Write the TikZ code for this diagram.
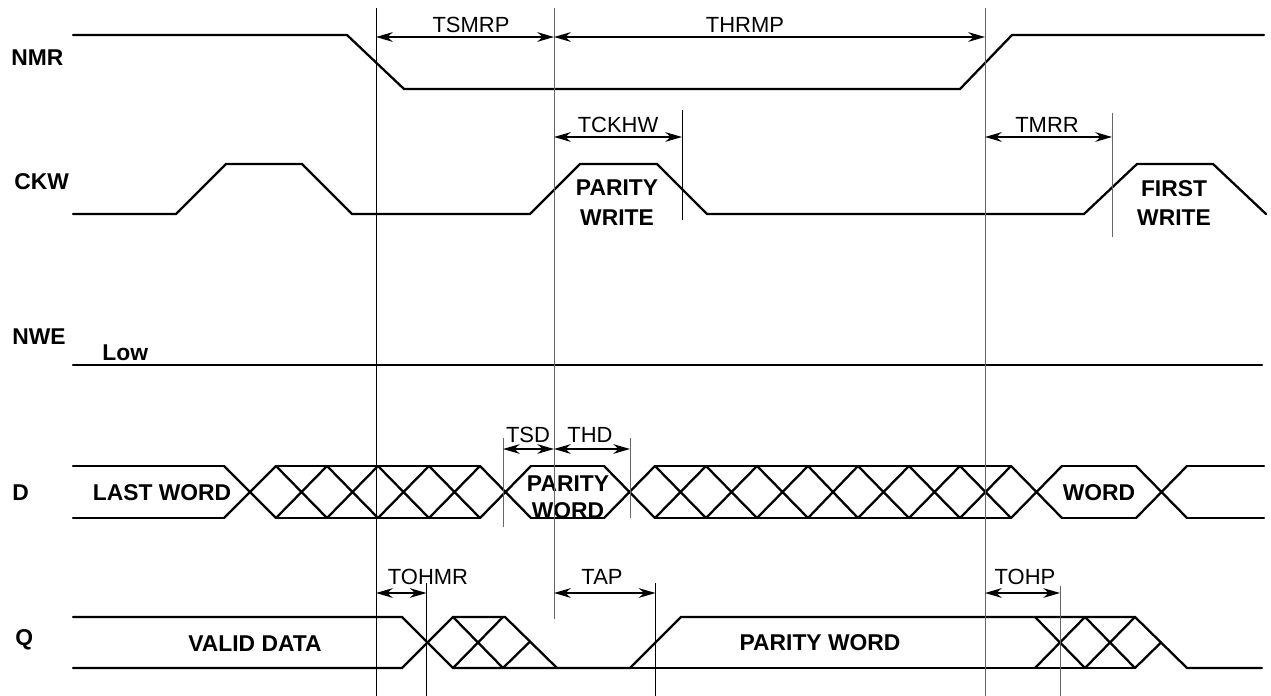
\documentclass[tikz,border=0pt]{standalone}
\usepackage{fontspec}
\setmainfont{Liberation Sans}
\usetikzlibrary{arrows.meta}

\begin{document}
\begin{tikzpicture}[x=0.02cm, y=-0.02cm,
    sig/.style={line width=1.3pt, line cap=round},
    vl/.style={line width=0.55pt},
    vlg/.style={vl, draw=black!60},
    dimarr/.style={{Stealth[length=9.5pt,width=5.5pt,inset=3pt]}-{Stealth[length=9.5pt,width=5.5pt,inset=3pt]}, line width=0.9pt},
    lbl/.style={font=\fontsize{13}{17}\selectfont\bfseries, inner sep=0pt, align=center},
    tm/.style={font=\fontsize{12.5}{14}\selectfont, inner sep=0pt}]
  \useasboundingbox (0,0) rectangle (1271,696);

  % signal names
  \node[lbl, anchor=west] (nmr) at (11,58) {NMR};
  \node[lbl, anchor=west] (ckw) at (14,182) {CKW};
  \node[lbl, anchor=west] (nwe) at (12,337) {NWE};
  \node[lbl, anchor=west] (d) at (12,493) {D};
  \node[lbl, anchor=west] (q) at (15,640) {Q};

  % NMR
  \draw[sig] (73,35) -- (347,35) -- (404,89) -- (960,89) -- (1012,35) -- (1264,35);

  % CKW
  \draw[sig] (73,214) -- (176,214) -- (226,164) -- (302,164) -- (352,214) -- (530,214)
    -- (580,164) -- (657,164) -- (707,214) -- (1084,214) -- (1137,164) -- (1213,164) -- (1266,214);
  \node[lbl] (pw) at (617,203) {PARITY\\WRITE};
  \node[lbl] (fw) at (1174,203) {FIRST\\WRITE};

  % NWE
  \draw[sig] (73,365) -- (1262,365);
  \node[lbl, anchor=west] (low) at (102,353) {Low};

  % D
  \foreach \a/\b in {73/224, 276/480, 531/604, 655/1011, 1062/1136, 1187/1264}
    \draw[sig] (\a,466) -- (\b,466) (\a,518) -- (\b,518);
  \foreach \a/\b in {224/276, 276/327, 327/378, 378/429, 429/480, 480/531,
                     604/655, 655/706, 706/757, 757/808, 808/858, 858/909, 909/960, 960/1011,
                     1011/1062, 1136/1187}
    \draw[sig] (\a,466) -- (\b,518) (\a,518) -- (\b,466);
  \node[lbl] (lw) at (162,493) {LAST WORD};
  \node[lbl, font=\fontsize{13}{15.5}\selectfont\bfseries] (pwd) at (568,497) {PARITY\\WORD};
  \node[lbl] (wd) at (1099,493) {WORD};

  % Q
  \draw[sig] (73,617) -- (402,617) -- (453,668) -- (630,668) -- (681,617) -- (1135,617) -- (1187,668) -- (1262,668);
  \draw[sig] (73,668) -- (402,668) -- (453,617) -- (505,617) -- (557,668);
  \draw[sig] (630,668) -- (1135,668);
  \foreach \x in {453, 1085}
    \draw[sig] (\x,617) -- (\x+50,668) (\x,668) -- (\x+50,617) (\x+50,668) -- (\x+76,642.5);
  \draw[sig] (1035,617) -- (1085,668) (1035,668) -- (1085,617);
  \node[lbl] (vd) at (255,644) {VALID DATA};
  \node[lbl] (pwq) at (820,643) {PARITY WORD};

  % marker lines
  \coordinate (v1) at (376,8);
  \coordinate (v2) at (554,8);
  \coordinate (v3) at (985,8);
  \coordinate (tckhw-e) at (682,110);
  \coordinate (tmrr-e) at (1112,113);
  \coordinate (tsd-s) at (503,438);
  \coordinate (thd-e) at (630,438);
  \coordinate (tohmr-e) at (426.5,583);
  \coordinate (tap-e) at (655.5,583);
  \coordinate (tohp-e) at (1060,586);
  \draw[vl] (v1) -- (376,696);
  \draw[vlg] (v2) -- (554,619);
  \draw[vlg] (v3) -- (985,696);
  \draw[vl] (tckhw-e) -- (682,220);
  \draw[vlg] (tmrr-e) -- (1112,237);
  \draw[vlg] (tsd-s) -- (503,527);
  \draw[vlg] (thd-e) -- (630,518);
  \draw[vl] (tohmr-e) -- (426.5,696);
  \draw[vl] (tap-e) -- (655.5,696);
  \draw[vlg] (tohp-e) -- (1060,696);

  % timing arrows
  \coordinate (r1) at (0,37);
  \coordinate (r2) at (0,137);
  \coordinate (r3) at (0,449);
  \coordinate (r4) at (0,593);
  \draw[dimarr] (v1 |- r1) -- (v2 |- r1);
  \draw[dimarr] (v2 |- r1) -- (v3 |- r1);
  \draw[dimarr] (v2 |- r2) -- (tckhw-e |- r2);
  \draw[dimarr] (v3 |- r2) -- (tmrr-e |- r2);
  \draw[dimarr] (tsd-s |- r3) -- (v2 |- r3);
  \draw[dimarr] (v2 |- r3) -- (thd-e |- r3);
  \draw[dimarr] (v1 |- r4) -- (tohmr-e |- r4);
  \draw[dimarr] (v2 |- r4) -- (tap-e |- r4);
  \draw[dimarr] (v3 |- r4) -- (tohp-e |- r4);
  \node[tm] (tsmrp) at (471,25) {TSMRP};
  \node[tm] (thrmp) at (745,25) {THRMP};
  \node[tm] (tckhw) at (618,125) {TCKHW};
  \node[tm] (tmrr) at (1047,125) {TMRR};
  \node[tm] (tsd) at (528,435) {TSD};
  \node[tm] (thd) at (590,435) {THD};
  \node[tm] (tohmr) at (428,577) {TOHMR};
  \node[tm] (tap) at (602,577) {TAP};
  \node[tm] (tohp) at (1025,577) {TOHP};
\end{tikzpicture}
\end{document}
